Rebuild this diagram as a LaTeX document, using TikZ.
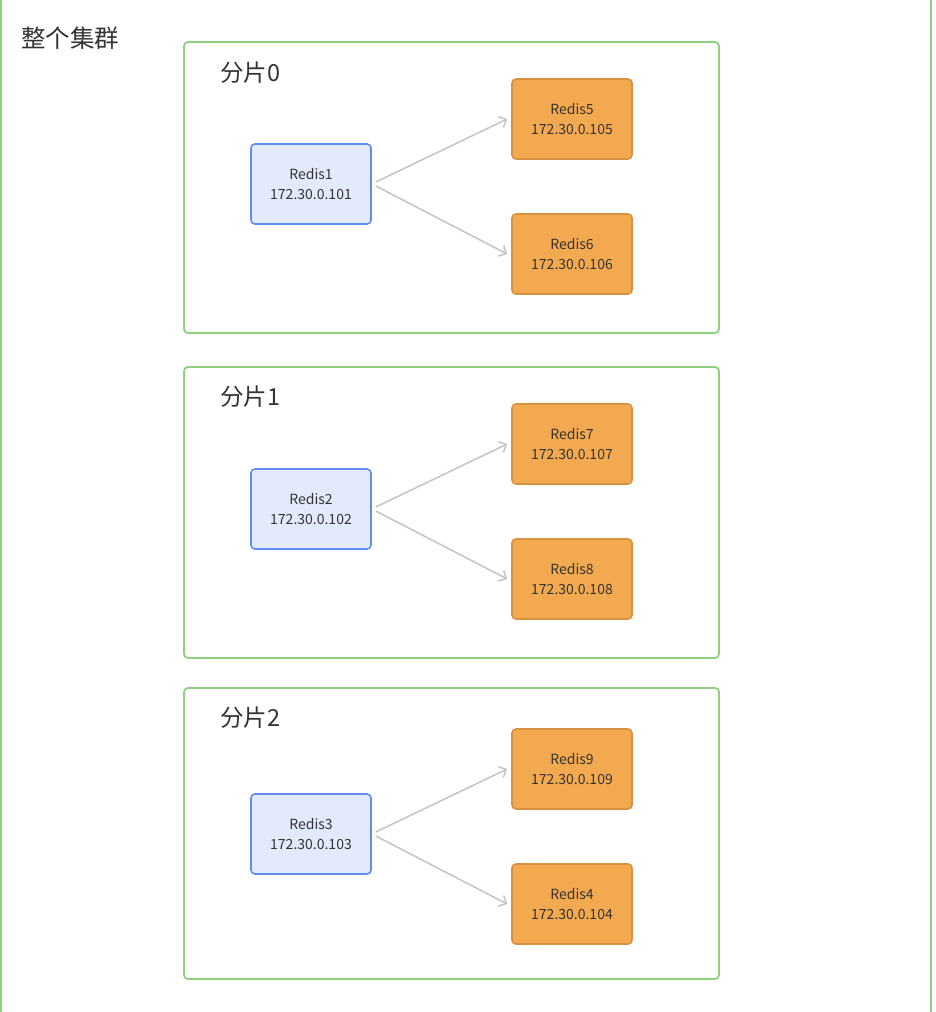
\documentclass[tikz,border=0pt]{standalone}
\usepackage{fontspec}
\setmainfont{Noto Sans CJK SC}
\usetikzlibrary{arrows.meta}
\definecolor{gframe}{HTML}{8FD17E}
\definecolor{bfill}{HTML}{E3EAFC}
\definecolor{bdraw}{HTML}{5E8FEE}
\definecolor{ofill}{HTML}{F3A950}
\definecolor{odraw}{HTML}{D8913F}
\definecolor{arrgray}{HTML}{C4C4C4}
\definecolor{txt}{HTML}{333333}
\tikzset{
  frame/.style={draw=gframe, line width=1.8pt, rounded corners=4pt},
  master/.style={draw=bdraw, fill=bfill, line width=1.6pt, rounded corners=4pt,
    minimum width=120pt, minimum height=80pt, align=center, text=txt,
    font=\fontsize{14}{20.5}\selectfont, inner sep=0pt},
  slave/.style={draw=odraw, fill=ofill, line width=1.6pt, rounded corners=4pt,
    minimum width=120pt, minimum height=80pt, align=center, text=txt,
    font=\fontsize{14}{20.5}\selectfont, inner sep=0pt},
  arr/.style={draw=arrgray, line width=1.5pt, -{Straight Barb[length=6pt,width=12pt]}},
  title/.style={anchor=west, text=txt, font=\fontsize{23.5}{28}\selectfont, inner sep=0pt},
  bigtitle/.style={anchor=west, text=txt, font=\fontsize{24.5}{28}\selectfont, inner sep=0pt}
}
\begin{document}
\begin{tikzpicture}[x=1pt,y=-1pt]
\useasboundingbox (0,0) rectangle (936,1012);
\clip (0,0) rectangle (936,1012);
\draw[frame] (1,-12) rectangle (931,1030);
\node[bigtitle] (t) at (21,38) {整个集群};
% shard boxes
\draw[frame] (184,42) rectangle (719,333);
\draw[frame] (184,367) rectangle (719,658);
\draw[frame] (184,688) rectangle (719,979);
\node[title] (s0) at (220,73) {分片0};
\node[title] (s1) at (220,397) {分片1};
\node[title] (s2) at (220,718) {分片2};
% shard 0
\node[master] (r1) at (311,184) {Redis1\\172.30.0.101};
\node[slave] (r5) at (572,119) {Redis5\\172.30.0.105};
\node[slave] (r6) at (572,254) {Redis6\\172.30.0.106};
% shard 1
\node[master] (r2) at (311,509) {Redis2\\172.30.0.102};
\node[slave] (r7) at (572,444) {Redis7\\172.30.0.107};
\node[slave] (r8) at (572,579) {Redis8\\172.30.0.108};
% shard 2
\node[master] (r3) at (311,834) {Redis3\\172.30.0.103};
\node[slave] (r9) at (572,769) {Redis9\\172.30.0.109};
\node[slave] (r4) at (572,904) {Redis4\\172.30.0.104};
% arrows
\foreach \m/\a/\b in {r1/r5/r6, r2/r7/r8, r3/r9/r4}{
  \draw[arr] ([xshift=4pt,yshift=2pt]\m.east) -- ([xshift=-4pt]\a.west);
  \draw[arr] ([xshift=4pt,yshift=-2pt]\m.east) -- ([xshift=-4pt]\b.west);
}
\end{tikzpicture}
\end{document}
